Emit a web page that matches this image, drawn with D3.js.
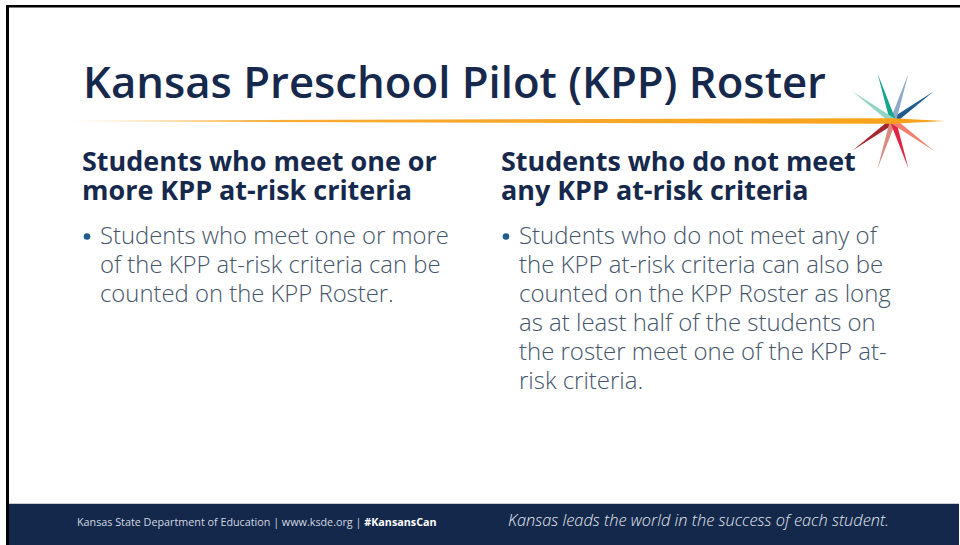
<!DOCTYPE html>
<html>
<head>
<meta charset="utf-8">
<script src="https://cdn.jsdelivr.net/npm/d3@7"></script>
<style>
  html, body { margin: 0; padding: 0; background: #fff; }
  svg { display: block; }
</style>
</head>
<body>
<script>
const width = 960;
const height = 545;

const titleText = "Kansas Preschool Pilot (KPP) Roster";
const leftHeading = ["Students who meet one or", "more KPP at-risk criteria"];
const leftBody = [
  "Students who meet one or more",
  "of the KPP at-risk criteria can be",
  "counted on the KPP Roster."
];
const rightHeading = ["Students who do not meet", "any KPP at-risk criteria"];
const rightBody = [
  "Students who do not meet any of",
  "the KPP at-risk criteria can also be",
  "counted on the KPP Roster as long",
  "as at least half of the students on",
  "the roster meet one of the KPP at-",
  "risk criteria."
];
const footerLeft = "Kansas State Department of Education | www.ksde.org | ";
const footerTag = "#KansansCan";
const footerRight = "Kansas leads the world in the success of each student.";

// star rays (degrees, counter-clockwise from east) and their colours
const rayAngles = [36, 72, 108, 144, 216, 252, 288, 324];
const rayColors = ["#1f5d8f", "#8eaacb", "#17a68b", "#92d4c3", "#a7272e", "#d98a7f", "#e1243f", "#f1806f"];

const navy = "#16294d";
const bodyColor = "#44546a";
const fontFamily = "'Open Sans', 'Noto Sans', sans-serif";

const svg = d3.select("body").append("svg")
  .attr("width", width)
  .attr("height", height);

svg.append("rect")
  .attr("width", width)
  .attr("height", height)
  .attr("fill", "#fff");

// frame lines
svg.append("rect").attr("x", 6).attr("y", 5).attr("width", width - 6).attr("height", 2.5).attr("fill", "#000");
svg.append("rect").attr("x", 6).attr("y", 5).attr("width", 3).attr("height", height - 5).attr("fill", "#000");

// fit a text block so that its reference line hits a given width
function fitBlock(sel, refNode, targetW) {
  const w = refNode.getComputedTextLength();
  const fs = parseFloat(d3.select(refNode).attr("font-size"));
  sel.attr("font-size", fs * targetW / w);
}

// title
const title = svg.append("text")
  .attr("x", 83)
  .attr("y", 98)
  .attr("font-family", fontFamily)
  .attr("font-weight", 600)
  .attr("font-size", 44)
  .attr("fill", navy)
  .text(titleText);
fitBlock(title, title.node(), 743);

// orange beam with fade
const defs = svg.append("defs");
const grad = defs.append("linearGradient")
  .attr("id", "beam")
  .attr("gradientUnits", "userSpaceOnUse")
  .attr("x1", 65).attr("x2", 945).attr("y1", 0).attr("y2", 0);
grad.append("stop").attr("offset", 0).attr("stop-color", "#f7a21b").attr("stop-opacity", 0);
grad.append("stop").attr("offset", 0.25).attr("stop-color", "#f7a21b").attr("stop-opacity", 0.9);
grad.append("stop").attr("offset", 1).attr("stop-color", "#f7a21b").attr("stop-opacity", 1);

const cx = 893, cy = 121, rayLen = 50, rayHalf = 3;

const line = d3.line();
const rays = svg.append("g");
rays.selectAll("path")
  .data(rayAngles)
  .join("path")
  .attr("d", a => {
    const r = a * Math.PI / 180;
    const dx = Math.cos(r), dy = -Math.sin(r);
    return line([
      [cx - dy * rayHalf, cy + dx * rayHalf],
      [cx + dx * rayLen, cy + dy * rayLen],
      [cx + dy * rayHalf, cy - dx * rayHalf]
    ]) + "Z";
  })
  .attr("fill", (d, i) => rayColors[i]);

svg.append("path")
  .attr("d", line([[65, cy - 0.5], [cx, cy - 2.8], [945, cy], [cx, cy + 2.8], [65, cy + 0.5]]) + "Z")
  .attr("fill", "url(#beam)");

// columns
function column(x, bodyX, heading, body, headW, bodyW) {
  const hy = d3.scaleLinear().domain([0, 1]).range([171, 200]);
  const h = svg.append("g").selectAll("text")
    .data(heading)
    .join("text")
    .attr("x", x)
    .attr("y", (d, i) => hy(i))
    .attr("font-family", fontFamily)
    .attr("font-weight", 700)
    .attr("font-size", 25)
    .attr("fill", navy)
    .text(d => d);
  fitBlock(h, h.nodes()[0], headW);

  const by = d3.scaleLinear().domain([0, 1]).range([244, 273]);
  const b = svg.append("g").selectAll("text")
    .data(body)
    .join("text")
    .attr("x", bodyX)
    .attr("y", (d, i) => by(i))
    .attr("font-family", fontFamily)
    .attr("font-weight", 300)
    .attr("font-size", 23)
    .attr("fill", bodyColor)
    .text(d => d);
  fitBlock(b, b.nodes()[0], bodyW);

  svg.append("circle")
    .attr("cx", bodyX - 13)
    .attr("cy", by(0) - 7.5)
    .attr("r", 3.3)
    .attr("fill", "#1f5d8f");
}

column(82, 100, leftHeading, leftBody, 355, 349);
column(501, 519, rightHeading, rightBody, 355, 358);

// footer
svg.append("rect").attr("x", 9).attr("y", 503).attr("width", width - 10).attr("height", 1).attr("fill", "#c9ccd3");
svg.append("rect").attr("x", 9).attr("y", 504).attr("width", width - 10).attr("height", height - 504).attr("fill", "#14284b");

const fl = svg.append("text")
  .attr("x", 77)
  .attr("y", 526)
  .attr("font-family", fontFamily)
  .attr("font-size", 11)
  .attr("fill", "#d3d8e1");
fl.append("tspan").text(footerLeft);
fl.append("tspan").attr("font-weight", 700).attr("fill", "#fff").text(footerTag);
fitBlock(fl, fl.node(), 360);

const fr = svg.append("text")
  .attr("x", 508)
  .attr("y", 526)
  .attr("font-family", fontFamily)
  .attr("font-style", "italic")
  .attr("font-weight", 300)
  .attr("font-size", 16)
  .attr("fill", "#e3e7ee")
  .text(footerRight);
fitBlock(fr, fr.node(), 381);
</script>
</body>
</html>
